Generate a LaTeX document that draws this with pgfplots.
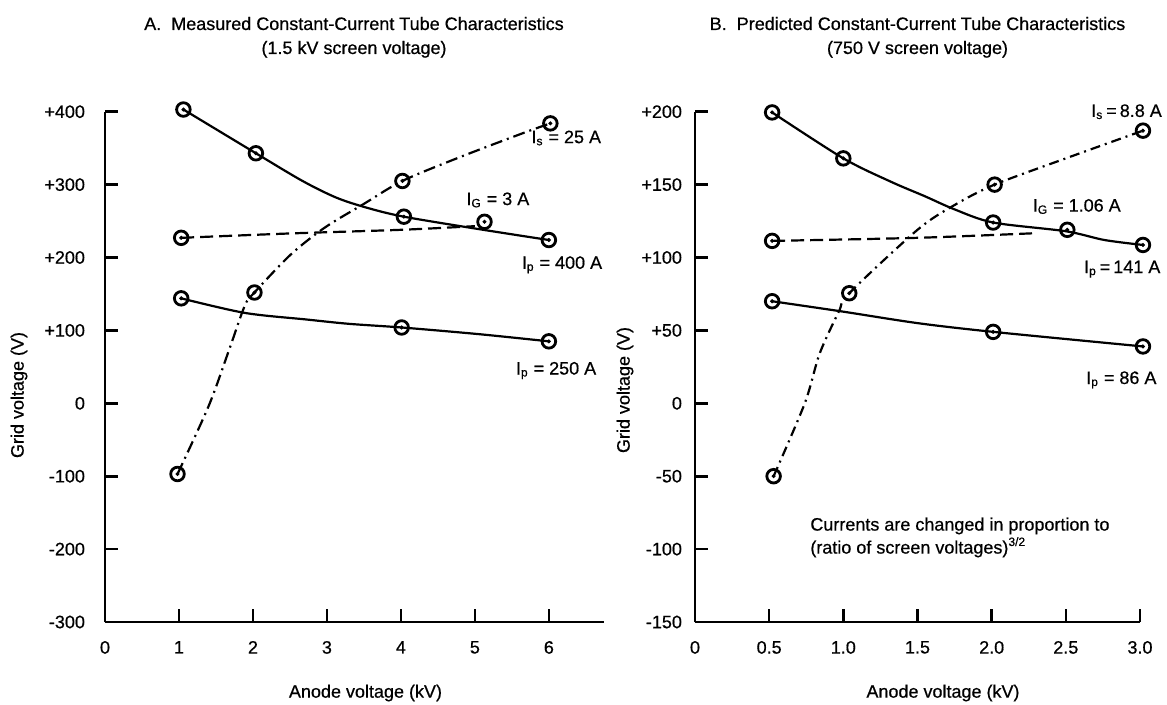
\documentclass[border=0pt]{standalone}
\usepackage{fontspec}
\setmainfont{Liberation Sans}[FakeBold=0.6]
\usepackage{pgfplots}
\usepackage{pgfplotstable}
\pgfplotsset{compat=1.18}

% ---- panel A: measured (1.5 kV screen) ----
\pgfplotstableread{
x y
1.06 403
2.04 343
2.67 305
3.13 282
3.55 268
4.04 256
5.05 239
6.00 224
}\aIpHiLine
\pgfplotstableread{
x y
1.06 403
2.04 343
4.04 256
6.00 224
}\aIpHiPts
\pgfplotstableread{
x y
1.03 144
1.89 124
2.72 115
3.30 109
4.01 104
5.04 95
6.00 85
}\aIpLoLine
\pgfplotstableread{
x y
1.03 144
4.01 104
6.00 85
}\aIpLoPts
\pgfplotstableread{
x y
1.03 227
2.50 233
4.00 238
5.00 243
}\aIgLine
\pgfplotstableread{
x y
1.03 227
5.13 249
}\aIgPts
\pgfplotstableread{
x y
0.98 -97
1.40 -4
1.68 74
1.89 134
2.02 152
2.51 204
2.97 241
3.49 273
4.02 305
4.78 337
5.66 371
6.02 384
}\aIsLine
\pgfplotstableread{
x y
0.98 -97
2.02 152
4.02 305
6.02 384
}\aIsPts

% ---- panel B: predicted (750 V screen) ----
\pgfplotstableread{
x y
0.52 199.5
1.00 168
1.32 152
1.55 142
1.75 133
2.01 124
2.50 118
2.76 112
3.02 108.6
}\bIpHiLine
\pgfplotstableread{
x y
0.52 199.5
1.00 168
2.01 124
3.02 108.6
}\bIpHiPts
\pgfplotstableread{
x y
0.52 70
0.99 63
1.50 55
2.01 49
3.02 39
}\bIpLoLine
\pgfplotstableread{
x y
0.52 70
2.01 49
3.02 39
}\bIpLoPts
\pgfplotstableread{
x y
0.52 111.4
1.50 113.5
2.30 116.7
}\bIgLine
\pgfplotstableread{
x y
0.52 111.4
2.51 119
}\bIgPts
\pgfplotstableread{
x y
0.53 -50
0.74 0
0.84 34
0.97 63
1.04 75.5
1.50 119
1.75 136
2.02 150
2.50 168
3.02 187
}\bIsLine
\pgfplotstableread{
x y
0.53 -50
1.04 75.5
2.02 150
3.02 187
}\bIsPts

\pgfplotsset{
  tube/.style={
    scale only axis, clip=false,
    anchor=south west,
    height=255.15pt,
    axis x line=bottom, axis y line=left,
    axis line style={-, line width=1.4pt},
    tick align=inside,
    major tick length=6.5pt,
    tick style={black, line width=1.3pt},
    xticklabel style={yshift=-6pt},
  },
  curve/.style={black, line width=1.1pt, smooth, no marks},
  ring/.style={only marks, mark=o, mark size=3.4pt, mark options={solid, line width=1.4pt}},
  dot/.style={only marks, mark=*, mark size=0.8pt},
}

\begin{document}
\begin{tikzpicture}[font=\fontsize{9pt}{11pt}\selectfont]
\useasboundingbox (0,0) rectangle (583.5pt,-352.5pt);

% titles and axis labels
\node[anchor=base] at (177pt,-15pt) {A.\ \ Measured Constant-Current Tube Characteristics};
\node[anchor=base] at (177pt,-27pt) {(1.5 kV screen voltage)};
\node[anchor=base] at (458.75pt,-15pt) {B.\ \ Predicted Constant-Current Tube Characteristics};
\node[anchor=base] at (458.75pt,-27pt) {(750 V screen voltage)};
\node at (182.75pt,-346.5pt) {Anode voltage (kV)};
\node at (471.5pt,-346.5pt) {Anode voltage (kV)};
\node[rotate=90] at (9.5pt,-197.5pt) {Grid voltage (V)};
\node[rotate=90] at (312.5pt,-195pt) {Grid voltage (V)};

\begin{axis}[tube,
  at={(52.5pt,-311pt)},
  width=249.3pt,
  xmin=0, xmax=6.74, ymin=-300, ymax=400,
  xtick={0,1,...,6}, xticklabels={0,1,2,3,4,5,6},
  ytick={-300,-200,...,400},
  yticklabels={-300,-200,-100,0,+100,+200,+300,+400},
  yticklabel style={xshift=-6.5pt},
]
\addplot[curve] table {\aIpHiLine};
\addplot[curve] table {\aIpLoLine};
\addplot[curve, dash pattern=on 6.5pt off 3pt] table {\aIgLine};
\addplot[curve, dash pattern=on 6pt off 2.5pt on 1pt off 2.5pt] table {\aIsLine};
\addplot[ring] table {\aIpHiPts};  \addplot[dot] table {\aIpHiPts};
\addplot[ring] table {\aIpLoPts};  \addplot[dot] table {\aIpLoPts};
\addplot[ring] table {\aIgPts};    \addplot[dot] table {\aIgPts};
\addplot[ring] table {\aIsPts};    \addplot[dot] table {\aIsPts};
\node[anchor=west] at (5.67,364) {I\textsubscript{s} = 25 A};
\node[anchor=west] at (4.79,279) {I\textsubscript{G} = 3 A};
\node[anchor=west] at (5.54,190) {I\textsubscript{p} = 400 A};
\node[anchor=west] at (5.46,45) {I\textsubscript{p} = 250 A};
\end{axis}

\begin{axis}[tube,
  at={(347.5pt,-311pt)},
  width=222.5pt,
  xmin=0, xmax=3, ymin=-150, ymax=200,
  xtick={0,0.5,...,3}, xticklabels={0,0.5,1.0,1.5,2.0,2.5,3.0},
  ytick={-150,-100,...,200},
  yticklabels={-150,-100,-50,0,+50,+100,+150,+200},
  yticklabel style={xshift=-3pt},
]
\addplot[curve] table {\bIpHiLine};
\addplot[curve] table {\bIpLoLine};
\addplot[curve, dash pattern=on 6.5pt off 3pt] table {\bIgLine};
\addplot[curve, dash pattern=on 5pt off 2.5pt on 1pt off 2.5pt] table {\bIsLine};
\addplot[ring] table {\bIpHiPts};  \addplot[dot] table {\bIpHiPts};
\addplot[ring] table {\bIpLoPts};  \addplot[dot] table {\bIpLoPts};
\addplot[ring] table {\bIgPts};    \addplot[dot] table {\bIgPts};
\addplot[ring] table {\bIsPts};    \addplot[dot] table {\bIsPts};
\node[anchor=east, inner xsep=0pt] at (3.15,200) {I\textsubscript{s}\,=\,8.8 A};
\node[anchor=west] at (2.23,135) {I\textsubscript{G} = 1.06 A};
\node[anchor=east, inner xsep=0pt] at (3.14,92) {I\textsubscript{p}\,=\,141 A};
\node[anchor=west] at (2.59,16) {I\textsubscript{p} = 86 A};
\node[anchor=west, align=left, font=\fontsize{9pt}{11.5pt}\selectfont] at (0.73,-92)
  {Currents are changed in proportion to\\(ratio of screen voltages)\textsuperscript{3/2}};
\end{axis}
\end{tikzpicture}
\end{document}
